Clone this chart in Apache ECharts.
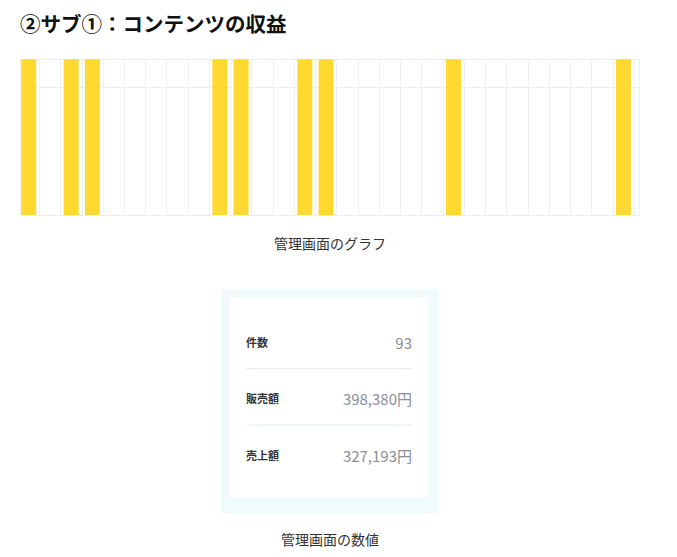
<!DOCTYPE html>
<html>
<head>
<meta charset="utf-8">
<script src="https://cdn.jsdelivr.net/npm/echarts@6/dist/echarts.min.js"></script>
<style>
html,body{margin:0;padding:0;background:#fff;}
#main{width:677px;height:557px;}
</style>
</head>
<body>
<div id="main"></div>
<script>
// Data
var titleText = '②サブ①：コンテンツの収益';
var days = [1,2,3,4,5,6,7,8,9,10,11,12,13,14,15,16,17,18,19,20,21,22,23,24,25,26,27,28,29];
var revenue = [1,0,1,1,0,0,0,0,0,1,1,0,0,1,1,0,0,0,0,0,1,0,0,0,0,0,0,0,1];
var chartCaption = '管理画面のグラフ';
var cardLabels = ['件数','販売額','売上額'];
var cardValues = ['93','398,380円','327,193円'];
var cardCaption = '管理画面の数値';

var FONT = '"Noto Sans CJK JP", "Noto Sans", sans-serif';
var chart = echarts.init(document.getElementById('main'), null, {renderer:'svg'});

var barData = days.map(function(d, i){ return [d - 0.5, revenue[i]]; });

var graphics = [
  {type:'text', x:330, y:242.5, style:{text:chartCaption, font:'14px ' + FONT, fill:'#333', align:'center', textAlign:'center', verticalAlign:'middle', textVerticalAlign:'middle'}},
  {type:'rect', shape:{x:221, y:289, width:218, height:224}, style:{fill:'#f1fbfc'}},
  {type:'rect', shape:{x:230, y:297, width:198, height:200}, style:{fill:'#ffffff'}},
  {type:'text', x:330, y:538.5, style:{text:cardCaption, font:'14px ' + FONT, fill:'#333', align:'center', textAlign:'center', verticalAlign:'middle', textVerticalAlign:'middle'}}
];
cardLabels.forEach(function(lab, i){
  var cy = 341.5 + i * 56.5;
  graphics.push({type:'text', x:246, y:cy, style:{text:lab, font:'bold 11px ' + FONT, fill:'#333', textVerticalAlign:'middle', verticalAlign:'middle'}});
  graphics.push({type:'text', x:412, y:cy + 0.5, style:{text:cardValues[i], font:'15px ' + FONT, fill:'#8a8f95', align:'right', textAlign:'right', verticalAlign:'middle', textVerticalAlign:'middle'}});
  if (i < cardLabels.length - 1) {
    graphics.push({type:'line', shape:{x1:246, y1:cy + 27, x2:412, y2:cy + 27}, style:{stroke:'#e9eff1', lineWidth:1}});
  }
});

chart.setOption({
  animation:false,
  backgroundColor:'#fff',
  title:{text:titleText, left:20, top:13, padding:0, textStyle:{fontFamily:FONT, fontSize:20.5, fontWeight:'bold', color:'#111'}},
  grid:{left:20.7, top:59.3, width:618.6, height:155.7, containLabel:false},
  xAxis:{
    type:'value', min:0.124, max:29.25, minInterval:1, maxInterval:1, splitNumber:29,
    axisLine:{show:false}, axisTick:{show:false}, axisLabel:{show:false},
    splitLine:{show:true, lineStyle:{color:'#f0f0f0', width:1}}
  },
  yAxis:{
    type:'value', min:0, max:1, interval:0.82,
    axisLine:{show:false}, axisTick:{show:false}, axisLabel:{show:false},
    splitLine:{show:true, lineStyle:{color:'#ededed', width:1}}
  },
  series:[{
    type:'bar', data:barData, barWidth:15,
    itemStyle:{color:'#ffd92f'}
  }],
  graphic:graphics
});
</script>
</body>
</html>
